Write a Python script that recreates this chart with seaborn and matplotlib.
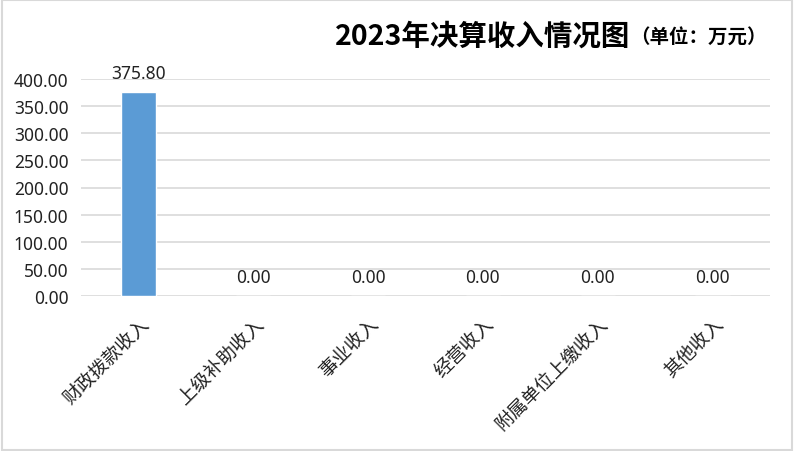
import matplotlib
matplotlib.use("Agg")
import matplotlib.pyplot as plt
import seaborn as sns
import pandas as pd
from matplotlib.patches import Rectangle

categories = ["财政拨款收入", "上级补助收入", "事业收入", "经营收入", "附属单位上缴收入", "其他收入"]
values = [375.80, 0.00, 0.00, 0.00, 0.00, 0.00]
yticks = [0, 50, 100, 150, 200, 250, 300, 350, 400]

sns.set_theme(style="white")
plt.rcParams["font.family"] = ["Noto Sans CJK SC", "DejaVu Sans"]
plt.rcParams["axes.unicode_minus"] = False

df = pd.DataFrame({"类别": categories, "金额": values})

fig = plt.figure(figsize=(7.94, 4.52), dpi=100)
ax = fig.add_axes([81 / 794, 1 - 297 / 452, (770 - 81) / 794, (297 - 80) / 452])

sns.barplot(data=df, x="类别", y="金额", color="#5b9bd5", width=0.30,
            saturation=1, ax=ax, zorder=3)

ax.set_ylim(0, 400)
ax.set_yticks(yticks)
ax.set_yticklabels([f"{v:.2f}" for v in yticks], fontsize=12.5, color="#222222",
                   family=["Noto Sans", "DejaVu Sans"])
ax.yaxis.grid(True, color="#d9d9d9", linewidth=1.2, zorder=0)
ax.set_axisbelow(True)
for s in ax.spines.values():
    s.set_visible(False)
ax.tick_params(axis="both", length=0)
ax.tick_params(axis="y", pad=9)
ax.set_xlabel("")
ax.set_ylabel("")
ax.set_xticks(range(len(categories)))
ax.set_xticklabels(categories, rotation=45, ha="right", rotation_mode="anchor",
                   fontsize=13.5, color="#222222")
ax.tick_params(axis="x", pad=12)

for i, v in enumerate(values):
    ax.annotate(f"{v:.2f}", (i, v), xytext=(0, 7), textcoords="offset points",
                ha="center", va="bottom", fontsize=12.5, color="#222222",
                family=["Noto Sans", "DejaVu Sans"])

fig.text(0.794, 0.918, "2023年决算收入情况图", ha="right", va="center",
         fontsize=20.5, fontweight="bold", color="black")
fig.text(0.794, 0.916, "（单位：万元）", ha="left", va="center",
         fontsize=14, fontweight="bold", color="black")

fig.patches.append(Rectangle((0.002, 0.003), 0.996, 0.994, transform=fig.transFigure,
                             fill=False, edgecolor="#d9d9d9", linewidth=1.5))

fig.savefig("out.png", dpi=100)
